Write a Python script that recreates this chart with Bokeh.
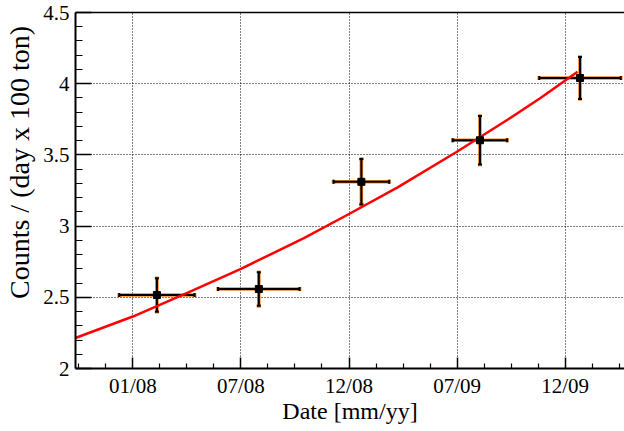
import math
from bokeh.plotting import figure
from bokeh.models import (ColumnDataSource, FixedTicker, LinearAxis, Whisker,
                          TeeHead, Range1d)
from bokeh.embed import file_html
from bokeh.resources import INLINE

# ---- data (x in days relative to the "01/08" tick) ----
day = [39, 204, 370, 562, 724]
day_err = [61, 66, 45, 44, 66]
rate = [2.516, 2.558, 3.311, 3.603, 4.040]
rate_err = [0.118, 0.118, 0.160, 0.170, 0.147]

fit_day = [-93, 0, 90, 175, 277, 350, 428, 524, 606, 660, 720]
fit_rate = [2.214, 2.365, 2.535, 2.700, 2.915, 3.085, 3.270, 3.520, 3.745, 3.900, 4.084]

x_tick_pos = [0, 175, 350, 525, 700]
x_tick_labels = ["01/08", "07/08", "12/08", "07/09", "12/09"]
x_minor = [-87.5, -43.75, 43.75, 87.5, 131.25, 218.75, 262.5, 306.25,
           393.75, 437.5, 481.25, 568.75, 612.5, 656.25, 743.75, 787.5]
y_tick_pos = [2, 2.5, 3, 3.5, 4, 4.5]
y_tick_labels = ["2", "2.5", "3", "3.5", "4", "4.5"]
y_minor = [2.1, 2.2, 2.3, 2.4, 2.6, 2.7, 2.8, 2.9, 3.1, 3.2, 3.3, 3.4,
           3.6, 3.7, 3.8, 3.9, 4.1, 4.2, 4.3, 4.4]

FONT = "'Liberation Serif', 'Times New Roman', serif"

src = ColumnDataSource(dict(
    x=day, y=rate,
    xl=[d - e for d, e in zip(day, day_err)], xh=[d + e for d, e in zip(day, day_err)],
    yl=[r - e for r, e in zip(rate, rate_err)], yh=[r + e for r, e in zip(rate, rate_err)],
))

p = figure(width=624, height=431, output_backend="svg", toolbar_location=None,
           x_range=Range1d(-92.8, 796), y_range=Range1d(2, 4.5),
           min_border_left=75, min_border_right=0, min_border_top=12,
           min_border_bottom=63, x_axis_location=None, y_axis_location=None)
p.outline_line_color = None
p.background_fill_color = "white"
p.border_fill_color = "white"

# axes
xax = LinearAxis(ticker=FixedTicker(ticks=x_tick_pos, minor_ticks=x_minor),
                 major_label_overrides={t: l for t, l in zip(x_tick_pos, x_tick_labels)})
xax.axis_label = "Date [mm/yy]"
yax = LinearAxis(ticker=FixedTicker(ticks=y_tick_pos, minor_ticks=y_minor),
                 major_label_overrides={t: l for t, l in zip(y_tick_pos, y_tick_labels)})
yax.axis_label = "\u00a0" * 8 + "Counts / (day x 100 ton)"
for ax in (xax, yax):
    ax.axis_line_color = "black"
    ax.axis_line_width = 2
    ax.major_tick_line_color = "black"
    ax.minor_tick_line_color = "black"
    ax.major_tick_line_width = 1.5
    ax.minor_tick_line_width = 1.2
    ax.major_tick_out = 0
    ax.minor_tick_out = 0
    ax.major_label_text_font = FONT
    ax.major_label_text_font_size = "21px"
    ax.major_label_text_color = "black"
    ax.axis_label_text_font = FONT
    ax.axis_label_text_font_style = "normal"
    ax.axis_label_text_color = "black"
xax.major_tick_in = 11
xax.minor_tick_in = 5
xax.major_label_standoff = 5
xax.axis_label_text_font_size = "24px"
xax.axis_label_standoff = -3
yax.major_tick_in = 16
yax.minor_tick_in = 7
yax.major_label_standoff = 6
yax.axis_label_text_font_size = "28px"
yax.axis_label_standoff = 5
p.add_layout(xax, "below")
p.add_layout(yax, "left")

top = LinearAxis(ticker=FixedTicker(ticks=[]), major_label_text_font_size="0px",
                 major_tick_in=0, major_tick_out=0, minor_tick_in=0, minor_tick_out=0,
                 axis_line_width=1.5, axis_line_color="black")
p.add_layout(top, "above")

# grid
p.xgrid.ticker = FixedTicker(ticks=x_tick_pos)
p.ygrid.ticker = FixedTicker(ticks=[2.5, 3, 3.5, 4])
for g in (p.xgrid, p.ygrid):
    g.grid_line_color = "black"
    g.grid_line_dash = "1 2"
    g.grid_line_width = 1

# fit curve
p.line(fit_day, fit_rate, line_color="#ff0000", line_width=2.5, line_join="round")

# error bars: orange halo then black
for color, w in (("#f0842c", 3.6), ("black", 2)):
    wy = Whisker(source=src, base="x", lower="yl", upper="yh", dimension="height",
                 line_color=color, line_width=w,
                 lower_head=TeeHead(size=4, line_color=color, line_width=w),
                 upper_head=TeeHead(size=4, line_color=color, line_width=w))
    wx = Whisker(source=src, base="y", lower="xl", upper="xh", dimension="width",
                 line_color=color, line_width=w,
                 lower_head=TeeHead(size=4, line_color=color, line_width=w),
                 upper_head=TeeHead(size=4, line_color=color, line_width=w))
    p.add_layout(wy)
    p.add_layout(wx)

p.scatter("x", "y", source=src, marker="square", size=7, color="black")

open("out.html", "w").write(file_html(p, INLINE))
